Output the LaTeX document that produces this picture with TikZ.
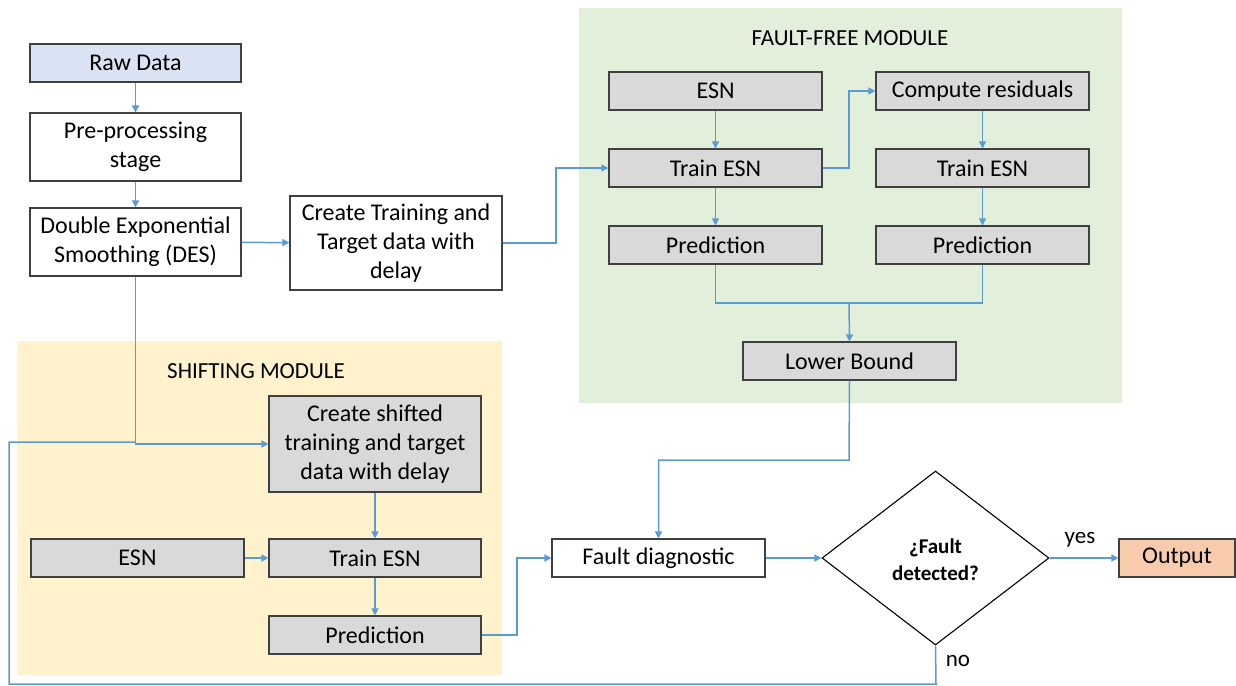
\documentclass[tikz,border=0pt]{standalone}
\usepackage{fontspec}
\setmainfont{Carlito}
\usetikzlibrary{arrows.meta,shapes.geometric}
\definecolor{lnblue}{HTML}{5B9BD5}
\definecolor{rawblue}{HTML}{DAE3F3}
\definecolor{boxgray}{HTML}{D9D9D9}
\definecolor{ffgreen}{HTML}{E2EFDA}
\definecolor{shyellow}{HTML}{FFF2CC}
\definecolor{outorange}{HTML}{F8CBAD}
\definecolor{bordergray}{HTML}{404040}
\begin{document}
\begin{tikzpicture}[x=1pt,y=-1pt,
  every node/.style={font=\fontsize{24}{29}\selectfont, inner sep=0pt},
  wbox/.style={draw=bordergray, line width=1.1pt, fill=white, align=center, minimum width=213pt, minimum height=38pt},
  gbox/.style={wbox, fill=boxgray},
  conn/.style={draw=lnblue, line width=1.5pt},
  arr/.style={conn, -{Triangle[width=7pt,length=7pt]}},
  title/.style={font=\fontsize{23}{27}\selectfont},
  lbl/.style={font=\fontsize{23}{27}\selectfont}
]
\useasboundingbox (0,0) rectangle (1236,685);
% module backgrounds
\fill[ffgreen] (579,8) rectangle (1122,403);
\fill[shyellow] (17,341) rectangle (502,675);
\node[title] (fftitle) at (850,38) {FAULT-FREE MODULE};
\node[title] (shtitle) at (256,371) {SHIFTING MODULE};

% left column
\node[wbox, fill=rawblue, minimum width=211pt] (raw) at (135.5,63) {Raw Data};
\node[wbox, minimum width=211pt, minimum height=68pt] (pre) at (135.5,147) {Pre-processing\\stage};
\node[wbox, minimum width=211pt, minimum height=68pt] (des) at (135.5,242) {Double Exponential\\Smoothing (DES)};
\node[wbox, minimum width=212pt, minimum height=94pt] (ctr) at (396,243) {Create Training and\\Target data with\\delay};

% fault-free module
\node[gbox] (esn1) at (715.5,91) {ESN};
\node[gbox] (tr1) at (715.5,168) {Train ESN};
\node[gbox] (pr1) at (715.5,245) {Prediction};
\node[gbox] (res) at (982.5,91) {Compute residuals};
\node[gbox] (tr2) at (982.5,168) {Train ESN};
\node[gbox] (pr2) at (982.5,245) {Prediction};
\node[gbox] (lb) at (849.5,361) {Lower Bound};

% shifting module
\node[gbox, minimum width=212pt, minimum height=96pt] (csh) at (375,444) {Create shifted\\training and target\\data with delay};
\node[gbox] (esn3) at (137.5,558) {ESN};
\node[gbox, minimum width=212pt] (tr3) at (375,558) {Train ESN};
\node[gbox, minimum width=212pt] (pr3) at (375,635) {Prediction};

% decision part
\node[wbox] (fd) at (658.5,558) {Fault diagnostic};
\node[draw=black, line width=1.1pt, fill=white, diamond, aspect=1.3, minimum width=227pt, minimum height=174pt, inner sep=0pt] (dia) at (935.5,558) {};
\node[font=\bfseries\fontsize{21}{27}\selectfont, align=center] (diatext) at (935.5,560) {¿Fault\\detected?};
\node[wbox, fill=outorange, minimum width=116pt] (out) at (1177,558) {Output};
\node[lbl] (yes) at (1080,540) {yes};
\node[lbl] (no) at (958,661) {no};

% coordinates
\coordinate (c1) at (556,243);
\coordinate (c2) at (849,168);
\coordinate (m1) at (849,303);
\coordinate (c3) at (849,460);
\coordinate (j1) at (135,442);
\coordinate (l1) at (936,684);
\coordinate (l2) at (9,684);
\coordinate (l3) at (9,442);
\coordinate (c4) at (517,635);

% connectors
\draw[arr] (raw) -- (pre);
\draw[arr] (pre) -- (des);
\draw[arr] (des) -- (ctr);
\draw[arr] (ctr.east) -- (c1) |- (tr1.west);
\draw[arr] (esn1) -- (tr1);
\draw[arr] (tr1) -- (pr1);
\draw[arr] (tr1.east) -- (c2) |- (res.west);
\draw[arr] (res) -- (tr2);
\draw[arr] (tr2) -- (pr2);
\draw[conn] (pr1.south) |- (m1);
\draw[conn] (pr2.south) |- (m1);
\draw[arr] (m1) -- (lb.north);
\draw[arr] (lb.south) -- (c3) -| (fd.north);
\draw[arr] (des.south) |- (csh.west);
\draw[conn] (dia.south) -- (l1) -- (l2) -- (l3) -- (j1);
\draw[arr] (csh) -- (tr3);
\draw[arr] (esn3) -- (tr3);
\draw[arr] (tr3) -- (pr3);
\draw[arr] (pr3.east) -- (c4) |- (fd.west);
\draw[arr] (fd) -- (dia.west);
\draw[arr] (dia.east) -- (out);
\end{tikzpicture}
\end{document}
